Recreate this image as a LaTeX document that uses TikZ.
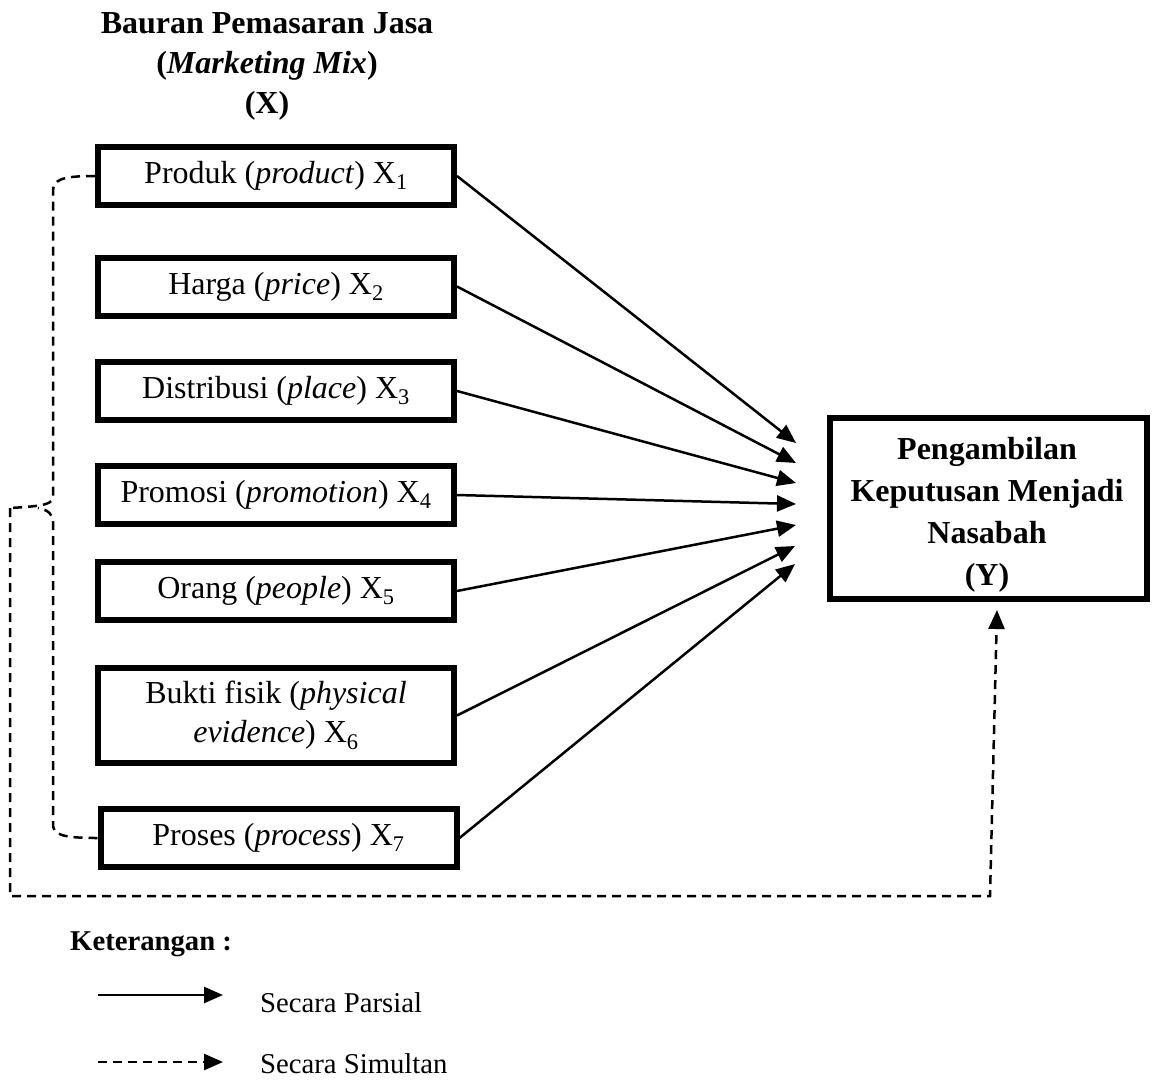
\documentclass[tikz,border=0pt]{standalone}
\usepackage{fontspec}
\setmainfont{Liberation Serif}
\usetikzlibrary{arrows.meta}
\begin{document}
\begin{tikzpicture}[x=1pt,y=-1pt,
  txt/.style={font=\fontsize{28.7pt}{34pt}\selectfont, inner sep=0pt},
  btxt/.style={font=\fontsize{32pt}{38pt}\selectfont, inner sep=0pt},
  xbox/.style={btxt, draw, line width=6pt, minimum width=356pt, minimum height=58pt, align=center},
  parsial/.style={line width=2.5pt, -{Triangle[length=19pt,width=16pt]}},
  simultan/.style={line width=2.5pt, dash pattern=on 9pt off 6pt},
  simarrow/.style={simultan, -{Triangle[length=19pt,width=16pt]}}
]
\useasboundingbox (0,0) rectangle (1155,1083);

% title
\node[btxt, font=\bfseries\fontsize{32pt}{40pt}\selectfont, align=center] (title) at (267,66)
  {Bauran Pemasaran Jasa\\(\textit{Marketing Mix})\\(X)};

% X boxes
\node[xbox] (x1) at (276,176) {Produk (\textit{product}) X\textsubscript{1}};
\node[xbox] (x2) at (276,286.5) {Harga (\textit{price}) X\textsubscript{2}};
\node[xbox] (x3) at (276,391) {Distribusi (\textit{place}) X\textsubscript{3}};
\node[xbox] (x4) at (276,495) {Promosi (\textit{promotion}) X\textsubscript{4}};
\node[xbox] (x5) at (276,591) {Orang (\textit{people}) X\textsubscript{5}};
\node[xbox, minimum height=95.5pt, font=\fontsize{32pt}{39pt}\selectfont] (x6) at (276,715.5)
  {Bukti fisik (\textit{physical}\\\textit{evidence}) X\textsubscript{6}};
\node[xbox] (x7) at (278.5,838) {Proses (\textit{process}) X\textsubscript{7}};

% Y box
\node[draw, line width=6pt, minimum width=317pt, minimum height=181pt, inner sep=0pt] (y) at (988.5,508.5) {};
\node[btxt, font=\bfseries\fontsize{32pt}{42pt}\selectfont, align=center] (ytext) at (987,515)
  {Pengambilan\\Keputusan Menjadi\\Nasabah\\(Y)};

% arrow tips
\coordinate (t1) at (796,443);
\coordinate (t2) at (796,463);
\coordinate (t3) at (796,483);
\coordinate (t4) at (796,504);
\coordinate (t5) at (796,525);
\coordinate (t6) at (795,546);
\coordinate (t7) at (795,564);

\draw[parsial] (x1.east) -- (t1);
\draw[parsial] (x2.east) -- (t2);
\draw[parsial] (x3.east) -- (t3);
\draw[parsial] (x4.east) -- (t4);
\draw[parsial] (x5.east) -- (t5);
\draw[parsial] (x6.east) -- (t6);
\draw[parsial] (x7.east) -- (t7);

% brace
\coordinate (btip) at (10,508);
\coordinate (bl) at (10,896);
\coordinate (br) at (990,896);
\coordinate (yin) at (997,610);
\draw[simultan] (x1.west) .. controls (60,176) and (53,180) .. (53,192) -- (53,496)
  .. controls (53,504) and (46,506) .. (btip);
\draw[simultan] (x7.west) .. controls (60,838) and (53,834) .. (53,824) -- (53,522)
  .. controls (53,514) and (48,510) .. (38,508);
\draw[simarrow] (btip) -- (bl) -- (br) -- (yin);

% legend
\node[txt, font=\bfseries\fontsize{28.7pt}{34pt}\selectfont, anchor=west] (ket) at (70,944) {Keterangan :};
\coordinate (l1a) at (98,995);
\coordinate (l1b) at (223,995);
\coordinate (l2a) at (98,1062);
\coordinate (l2b) at (223,1062);
\draw[parsial] (l1a) -- (l1b);
\draw[simarrow] (l2a) -- (l2b);
\node[txt, anchor=west] (lp) at (260,1003) {Secara Parsial};
\node[txt, anchor=west] (ls) at (260,1064) {Secara Simultan};
\end{tikzpicture}
\end{document}
